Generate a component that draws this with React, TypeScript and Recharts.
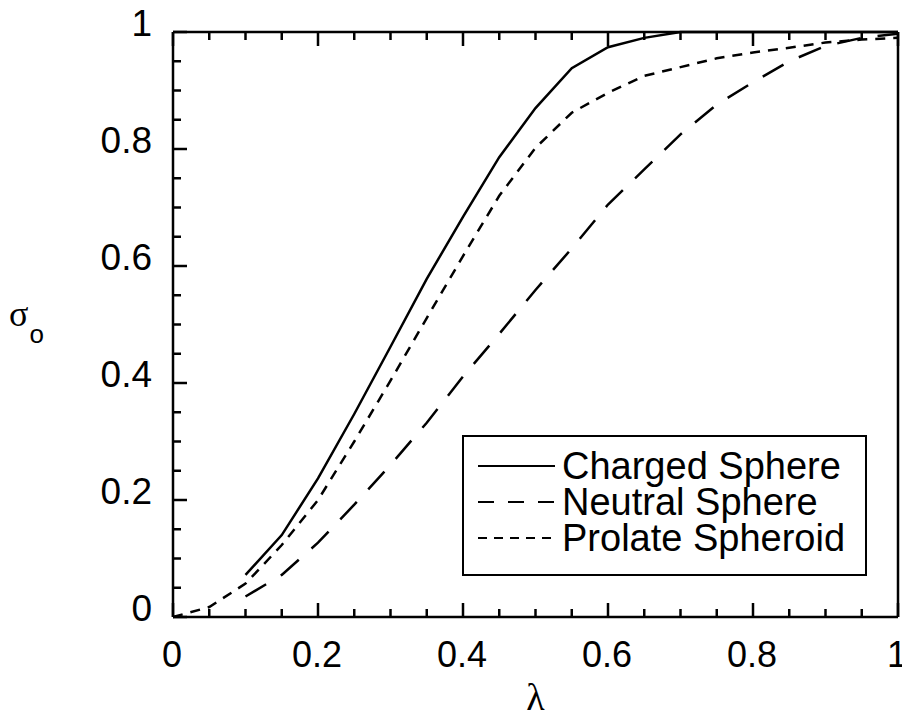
import { LineChart, Line, XAxis, YAxis, Legend } from "recharts";

// values
const LAMBDA = [0, 0.05, 0.1, 0.15, 0.2, 0.25, 0.3, 0.35, 0.4, 0.45, 0.5, 0.55, 0.6, 0.65, 0.7, 0.75, 0.8, 0.85, 0.9, 0.95, 1];
const CHARGED = [null, null, 0.072, 0.14, 0.237, 0.347, 0.462, 0.578, 0.684, 0.786, 0.87, 0.938, 0.974, 0.99, 1, 1, 1, 1, 1, 1, 1];
const NEUTRAL = [null, null, 0.035, 0.072, 0.127, 0.192, 0.26, 0.332, 0.411, 0.484, 0.559, 0.63, 0.705, 0.765, 0.825, 0.876, 0.914, 0.95, 0.976, 0.99, 0.997];
const PROLATE = [0, 0.017, 0.057, 0.123, 0.2, 0.3, 0.404, 0.511, 0.617, 0.72, 0.802, 0.862, 0.896, 0.925, 0.94, 0.955, 0.965, 0.973, 0.982, 0.987, 0.99];

const TICKS = [0, 0.05, 0.1, 0.15, 0.2, 0.25, 0.3, 0.35, 0.4, 0.45, 0.5, 0.55, 0.6, 0.65, 0.7, 0.75, 0.8, 0.85, 0.9, 0.95, 1];
const MAJOR_TICKS = [0, 0.2, 0.4, 0.6, 0.8, 1];
const TICK_LABELS = ["0", "0.2", "0.4", "0.6", "0.8", "1"];

const SERIES = [
  { key: "charged", name: "Charged Sphere", dash: undefined, legendDash: undefined },
  { key: "neutral", name: "Neutral Sphere", dash: "24 17", legendDash: "16 14" },
  { key: "prolate", name: "Prolate Spheroid", dash: "10 8", legendDash: "9 7" },
];

const data = LAMBDA.map((l, i) => ({
  lambda: l,
  charged: CHARGED[i],
  neutral: NEUTRAL[i],
  prolate: PROLATE[i],
}));

const SANS = "'Liberation Sans', Arial, Helvetica, sans-serif";
const SERIF = "'Liberation Serif', 'Times New Roman', serif";
const MAJOR_LEN = 14;
const MINOR_LEN = 8;
const LW = 2.5;

const labelFor = (v: number) => {
  const i = MAJOR_TICKS.findIndex((m) => Math.abs(m - v) < 1e-6);
  return i >= 0 ? TICK_LABELS[i] : null;
};

// ticks point into the plot, labels sit outside on bottom/left only
function makeTick(side: "bottom" | "top" | "left" | "right") {
  return (props: any) => {
    const { x, y, payload } = props;
    const label = labelFor(payload.value);
    const len = label !== null ? MAJOR_LEN : MINOR_LEN;
    let x2 = x;
    let y2 = y;
    if (side === "bottom") y2 = y - len;
    if (side === "top") y2 = y + len;
    if (side === "left") x2 = x + len;
    if (side === "right") x2 = x - len;
    return (
      <g>
        <path d={`M${x},${y}L${x2},${y2}`} stroke="#000" strokeWidth={LW} fill="none" />
        {label !== null && side === "bottom" && (
          <text x={x - 1} y={y + 50} textAnchor="middle" fontSize={36} fontFamily={SANS} fill="#000">
            {label}
          </text>
        )}
        {label !== null && side === "left" && (
          <text x={x - 21} y={y + 4} textAnchor="end" fontSize={37} fontFamily={SANS} fill="#000">
            {label}
          </text>
        )}
      </g>
    );
  };
}

const bottomTick = makeTick("bottom");
const topTick = makeTick("top");
const leftTick = makeTick("left");
const rightTick = makeTick("right");

function SigmaLabel(props: any) {
  const vb = props.viewBox || { x: 0, y: 32, width: 173, height: 585 };
  const cy = vb.y + vb.height / 2;
  return (
    <text x={vb.x + 9} y={cy + 1} fill="#000">
      <tspan fontSize={36} fontFamily={SERIF}>σ</tspan>
      <tspan fontSize={26} fontFamily={SANS} dx={1} dy={17}>o</tspan>
    </text>
  );
}

function LegendBox() {
  return (
    <div
      style={{
        boxSizing: "border-box",
        width: 405,
        height: 141,
        border: `${LW}px solid #000`,
        background: "#fff",
        paddingTop: 11,
        paddingLeft: 14,
      }}
    >
      {SERIES.map((s) => (
        <div key={s.key} style={{ display: "flex", height: 36, alignItems: "center" }}>
          <svg width={77} height={36} style={{ display: "block" }}>
            <line x1={0} y1={18} x2={77} y2={18} stroke="#000" strokeWidth={2} strokeDasharray={s.legendDash} />
          </svg>
          <span
            style={{
              marginLeft: 7,
              fontFamily: SANS,
              fontSize: 38,
              lineHeight: "36px",
              color: "#000",
              whiteSpace: "nowrap",
            }}
          >
            {s.name}
          </span>
        </div>
      ))}
    </div>
  );
}

export default function App() {
  return (
    <div style={{ position: "absolute", left: 0, top: 0, background: "#fff" }}>
      <LineChart width={902} height={717} data={data} margin={{ top: 31, right: 3, bottom: 0, left: 0 }}>
        <XAxis
          dataKey="lambda"
          type="number"
          domain={[0, 1]}
          ticks={TICKS}
          interval={0}
          height={100}
          tickSize={0}
          tickMargin={0}
          tickLine={false}
          tick={bottomTick}
          axisLine={{ stroke: "#000", strokeWidth: LW }}
          label={{ value: "λ", position: "insideBottom", offset: 7, style: { fontSize: 38, fontFamily: SERIF, fill: "#000" } }}
        />
        <XAxis
          xAxisId="top"
          orientation="top"
          dataKey="lambda"
          type="number"
          domain={[0, 1]}
          ticks={TICKS}
          interval={0}
          height={1}
          tickSize={0}
          tickMargin={0}
          tickLine={false}
          tick={topTick}
          axisLine={{ stroke: "#000", strokeWidth: LW }}
        />
        <YAxis
          type="number"
          domain={[0, 1]}
          ticks={TICKS}
          interval={0}
          width={173}
          tickSize={0}
          tickMargin={0}
          tickLine={false}
          tick={leftTick}
          axisLine={{ stroke: "#000", strokeWidth: LW }}
          label={{ content: (p: any) => <SigmaLabel viewBox={p.viewBox} /> }}
        />
        <YAxis
          yAxisId="right"
          orientation="right"
          type="number"
          domain={[0, 1]}
          ticks={TICKS}
          interval={0}
          width={1}
          tickSize={0}
          tickMargin={0}
          tickLine={false}
          tick={rightTick}
          axisLine={{ stroke: "#000", strokeWidth: LW }}
        />
        <Legend
          layout="horizontal"
          verticalAlign="middle"
          align="center"
          content={() => <LegendBox />}
          wrapperStyle={{ left: 462, top: 435, width: 405, height: 141 }}
        />
        {SERIES.map((s) => (
          <Line
            key={s.key}
            type="linear"
            dataKey={s.key}
            name={s.name}
            stroke="#000"
            strokeWidth={LW}
            strokeDasharray={s.dash}
            dot={false}
            activeDot={false}
            isAnimationActive={false}
          />
        ))}
      </LineChart>
    </div>
  );
}
